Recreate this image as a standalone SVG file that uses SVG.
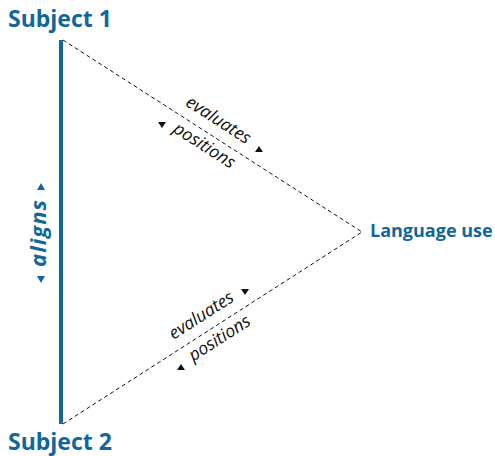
<svg xmlns="http://www.w3.org/2000/svg" width="495" height="456" viewBox="0 0 495 456">
<style>
.node{fill:#12679a;font-family:"Open Sans","Noto Sans",sans-serif;font-weight:bold}
.lbl{fill:#111;font-family:"Open Sans","Noto Sans",sans-serif;font-style:italic;font-size:17.5px}
.dash{stroke:#111;stroke-width:1;stroke-dasharray:4 3;fill:none}
.tri{fill:#111}
.btri{fill:#12679a}
</style>
<rect width="495" height="456" fill="#fff"/>
<g id="connectors">
<line x1="61" y1="40" x2="61" y2="424" stroke="#12679a" stroke-width="4"/>
<line class="dash" x1="63" y1="40" x2="362" y2="232"/>
<line class="dash" x1="63" y1="424" x2="362" y2="232"/>
<g id="align-label">
<text class="node" font-style="italic" font-size="22" letter-spacing="1" text-anchor="middle" transform="translate(46,233) rotate(-90)">aligns</text>
<polygon class="btri" points="41,183 45,190 37,190"/>
<polygon class="btri" points="41,283 45,276 37,276"/>
</g>
<g id="upper-labels">
<text class="lbl" text-anchor="middle" transform="translate(63,40) rotate(32.7) translate(174,-11)">evaluates</text>
<text class="lbl" text-anchor="middle" transform="translate(63,40) rotate(32.7) translate(176,18)">positions</text>
<polygon class="tri" points="162,128 158,122 166,122"/>
<polygon class="tri" points="259,146 263,152 255,152"/>
</g>
<g id="lower-labels">
<text class="lbl" text-anchor="middle" transform="translate(63,424) rotate(-32.7) translate(175,-11)">evaluates</text>
<text class="lbl" text-anchor="middle" transform="translate(63,424) rotate(-32.7) translate(178,18)">positions</text>
<polygon class="tri" points="245,295 241,289 249,289"/>
<polygon class="tri" points="181,364 185,370 177,370"/>
</g>
</g>
<g id="subject1"><text class="node" x="8" y="27" font-size="23">Subject 1</text></g>
<g id="subject2"><text class="node" x="8" y="450" font-size="23">Subject 2</text></g>
<g id="language-use"><text class="node" x="370" y="237" font-size="18">Language use</text></g>
</svg>
